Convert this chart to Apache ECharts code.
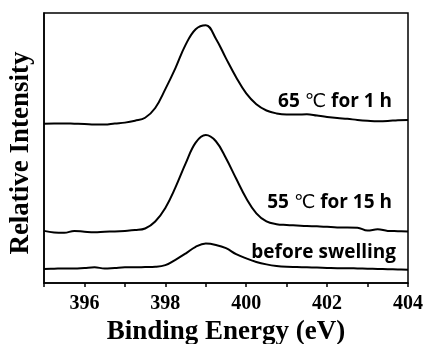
<!DOCTYPE html>
<html>
<head>
<meta charset="utf-8">
<script src="https://cdn.jsdelivr.net/npm/echarts@6/dist/echarts.min.js"></script>
<style>
  html, body { margin: 0; padding: 0; background: #fff; }
  #main { width: 424px; height: 344px; }
</style>
</head>
<body>
<div id="main"></div>
<script>
// binding energy grid (eV)
let energy = [
    395, 395.25, 395.5, 395.75, 396, 396.25, 396.5, 396.75,
    397, 397.25, 397.5, 397.75, 398, 398.25, 398.5, 398.75,
    399, 399.25, 399.5, 399.75, 400, 400.25, 400.5, 400.75,
    401, 401.25, 401.5, 401.75, 402, 402.25, 402.5, 402.75,
    403, 403.25, 403.5, 403.75, 404
]

// stacked spectra, arbitrary intensity units
let hot65 = [
    59.0, 59.1, 59.1, 59.0, 58.9, 58.7, 58.7, 59.1,
    59.4, 60.1, 61.2, 64.8, 71.8, 79.6, 88.2, 94.0,
    95.5, 90.5, 83.2, 76.2, 70.2, 66.2, 63.9, 62.8,
    62.4, 62.4, 62.5, 62.0, 61.5, 61.1, 60.8, 60.4,
    60.1, 59.9, 60.0, 60.3, 60.4
]
let warm55 = [
    19.3, 18.7, 18.6, 19.3, 19.0, 18.8, 19.0, 19.1,
    19.3, 19.6, 20.2, 22.8, 27.8, 35.4, 44.2, 52.0,
    54.8, 52.5, 46.2, 38.7, 31.4, 25.8, 22.8, 21.8,
    21.5, 21.3, 21.1, 21.0, 20.8, 20.6, 20.6, 20.5,
    19.4, 19.9, 19.3, 19.2, 19.1
]
let before = [
    5.2, 5.3, 5.4, 5.4, 5.6, 5.8, 5.4, 5.6,
    5.8, 5.8, 5.9, 6.0, 6.6, 8.6, 10.9, 13.4,
    14.6, 14.1, 12.9, 10.7, 9.1, 7.8, 6.9, 6.3,
    6.0, 5.9, 5.8, 5.7, 5.6, 5.5, 5.5, 5.4,
    5.3, 5.2, 5.1, 5.0, 4.9
]

let seriesNames = ['65 ℃ for 1 h', '55 ℃ for 15 h', 'before swelling']
let seriesData = [hot65, warm55, before]
let tickLabels = ['396', '398', '400', '402', '404']

const serif = '"Liberation Serif", "Times New Roman", serif'
const sans = '"Open Sans", Lato, sans-serif'

// split the degree sign out so it can use a thinner glyph like the original
function labelText(name) {
    return name.split('℃').join('{c|℃}')
}
let labelRich = {
    c: { fontFamily: '"DejaVu Sans"', fontWeight: 'normal', fontSize: 19, lineHeight: 24, verticalAlign: 'middle', fill: '#000' }
}

function seriesLabel(i, x, y) {
    return {
        type: 'text', x: x, y: y,
        style: {
            text: labelText(seriesNames[i]),
            rich: labelRich,
            align: 'right',
            verticalAlign: 'middle',
            fontFamily: sans,
            fontWeight: 'bold',
            fontSize: 19,
            lineHeight: 24,
            fill: '#000'
        }
    }
}

let chart = echarts.init(document.getElementById('main'))

let option = {
    animation: false,
    backgroundColor: '#fff',
    grid: {
        left: 44,
        right: 16,
        top: 13,
        bottom: 61,
        outerBoundsMode: 'none',
        show: true,
        borderColor: '#000',
        borderWidth: 1.5
    },
    xAxis: {
        type: 'value',
        min: 395,
        max: 404,
        interval: 1,
        name: 'Binding Energy (eV)',
        nameLocation: 'middle',
        nameGap: 33,
        nameTextStyle: {
            fontFamily: serif,
            fontWeight: 'bold',
            fontSize: 27,
            color: '#000'
        },
        axisLine: { lineStyle: { color: '#000', width: 1.5 } },
        axisTick: { length: 4, lineStyle: { color: '#000', width: 1.5 } },
        splitLine: { show: false },
        axisLabel: {
            margin: 11,
            fontFamily: serif,
            fontWeight: 'bold',
            fontSize: 20,
            color: '#000',
            formatter: function (v) {
                let s = String(v)
                return tickLabels.indexOf(s) >= 0 ? s : ''
            }
        }
    },
    yAxis: {
        type: 'value',
        min: 0,
        max: 100,
        axisLine: { show: true, lineStyle: { color: '#000', width: 1.5 } },
        axisTick: { show: false },
        axisLabel: { show: false },
        splitLine: { show: false }
    },
    series: seriesData.map(function (d, i) {
        return {
            name: seriesNames[i],
            type: 'line',
            data: energy.map(function (e, k) { return [e, d[k]] }),
            smooth: 0.4,
            showSymbol: false,
            lineStyle: { color: '#000', width: 2 },
            silent: true
        }
    }),
    graphic: [
        {
            type: 'text', x: 21, y: 153, rotation: Math.PI / 2,
            style: { text: 'Relative Intensity', align: 'center', verticalAlign: 'middle', fontFamily: serif, fontWeight: 'bold', fontSize: 27, fill: '#000' }
        },
        seriesLabel(0, 392, 102),
        seriesLabel(1, 392, 203),
        seriesLabel(2, 396, 253)
    ]
}

chart.setOption(option)
</script>
</body>
</html>
